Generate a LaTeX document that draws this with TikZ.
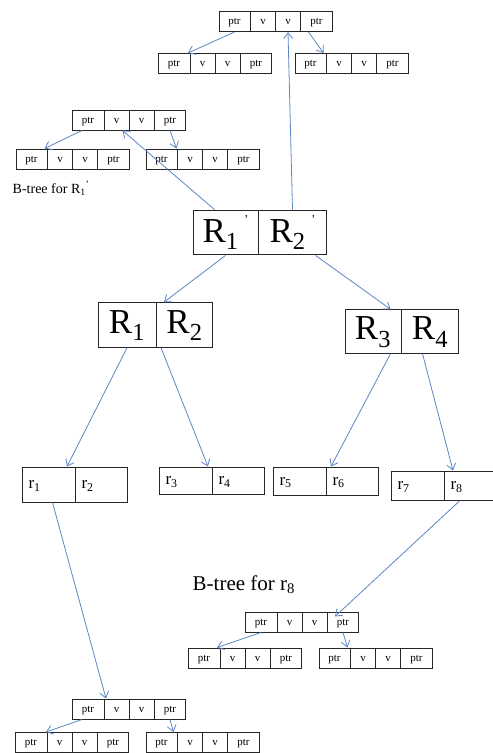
\documentclass[tikz,border=0pt]{standalone}
\usepackage{fontspec}
\setmainfont{Liberation Serif}
\usetikzlibrary{shapes.multipart,arrows.meta}

\definecolor{linkblue}{RGB}{92,134,196}

\tikzset{every picture/.style={line width=0.75pt}}
\tikzset{
  keys/.style={draw=black!85, line width=1pt, fill=white,
    rectangle split, rectangle split horizontal, rectangle split parts=4,
    rectangle split part align=base,
    inner xsep=6pt, inner ysep=4pt, text height=9pt, text depth=3pt,
    font=\fontsize{11}{13}\selectfont},
  bigkeys/.style={draw=black!85, line width=1pt, fill=white,
    rectangle split, rectangle split horizontal, rectangle split parts=2,
    rectangle split part align=base,
    inner xsep=8pt, inner ysep=5pt, text height=24pt, text depth=7pt,
    font=\fontsize{35}{38}\selectfont},
  leaf/.style={draw=black!85, line width=1pt, fill=white,
    rectangle split, rectangle split horizontal, rectangle split parts=2,
    rectangle split part align=base,
    inner xsep=6pt, inner ysep=4pt, text height=13pt, text depth=5pt,
    font=\fontsize{17}{20}\selectfont},
  link/.style={draw=linkblue, line width=0.8pt,
    -{Straight Barb[length=6pt,width=9pt]}},
}

% one b-tree node: ptr | v | v | ptr
\newcommand{\keyrow}{\makebox[19pt]{ptr}\nodepart{two}\makebox[12pt]{v}%
  \nodepart{three}\makebox[12pt]{v}\nodepart{four}\makebox[19pt]{ptr}}
\newcommand{\leafrow}[2]{\makebox[40pt][l]{r\textsubscript{#1}}%
  \nodepart{two}\makebox[40pt][l]{r\textsubscript{#2}}}
\newcommand{\tick}{\raisebox{0.55em}{\fontsize{12}{12}\selectfont ’}}

\begin{document}
\begin{tikzpicture}[x=1pt,y=1pt,yscale=-1]
\useasboundingbox (0,0) rectangle (493,753);

% top b-tree
\node [keys] (troot)  at (275.5,21.5) {\keyrow};
\node [keys] (tleft)  at (215,63.5)   {\keyrow};
\node [keys] (tright) at (351.5,63.5) {\keyrow};

% b-tree for R1'
\node [keys] (sroot)  at (129,120)    {\keyrow};
\node [keys] (sleft)  at (72.5,159)   {\keyrow};
\node [keys] (sright) at (202.5,159)  {\keyrow};
\node [anchor=base west, font=\fontsize{14}{16}\selectfont] (labR) at (9,193)
  {B-tree for R\textsubscript{1}\textsuperscript{’}};

% R nodes
\node [bigkeys] (Rp) at (260,232.5)
  {\makebox[48pt]{R\textsubscript{1}\,\tick}\nodepart{two}\makebox[52pt]{R\textsubscript{2}\,\tick}};
\node [bigkeys, inner ysep=6.5pt] (R12) at (155.5,325)
  {\makebox[41pt]{R\textsubscript{1}}\nodepart{two}\makebox[40pt]{R\textsubscript{2}}};
\node [bigkeys, inner ysep=6pt] (R34) at (401.5,331.5)
  {\makebox[40pt]{R\textsubscript{3}}\nodepart{two}\makebox[40pt]{R\textsubscript{4}}};

% leaves
\node [leaf, inner ysep=8.5pt] (r12) at (75,484.5)  {\leafrow{1}{2}};
\node [leaf, inner ysep=4.5pt] (r34) at (212,480.5) {\leafrow{3}{4}};
\node [leaf, inner ysep=5pt]   (r56) at (326,481)   {\leafrow{5}{6}};
\node [leaf, inner ysep=5.5pt] (r78) at (444,485.5) {\leafrow{7}{8}};

% b-tree for r8
\node [anchor=base west, font=\fontsize{21}{24}\selectfont] (labr) at (189,590)
  {B-tree for r\textsubscript{8}};
\node [keys] (rroot)  at (302,622)    {\keyrow};
\node [keys] (rleft)  at (245,658)    {\keyrow};
\node [keys] (rright) at (375.5,658)  {\keyrow};

% b-tree for r1
\node [keys] (lroot)  at (129,709)    {\keyrow};
\node [keys] (lleft)  at (72,742.5)   {\keyrow};
\node [keys] (lright) at (202.5,742.5) {\keyrow};

% links
\draw [link] (troot.one south) -- ([xshift=-2pt]tleft.one split north);
\draw [link] ([xshift=8pt]troot.three split south) -- ([xshift=-3pt]tright.one split north);
\draw [link] (Rp.two north) -- (troot.three south);

\draw [link] ([xshift=-6pt]sroot.one south) -- ([xshift=-3pt]sleft.one split north);
\draw [link] (sroot.four south) -- ([xshift=-1pt]sright.one split north);
\draw [link] ([xshift=-11pt]Rp.one north) -- ([xshift=6pt]sroot.two south);

\draw [link] (Rp.one south) -- ([xshift=8pt]R12.one split north);
\draw [link] ([xshift=23pt]Rp.two south) -- ([xshift=-11pt]R34.one split north);

\draw [link] (R12.one south) -- ([xshift=-8pt]r12.one split north);
\draw [link] ([xshift=5pt]R12.one split south) -- ([xshift=-4pt]r34.one split north);
\draw [link] ([xshift=-11pt]R34.one split south) -- ([xshift=5pt]r56.one split north);
\draw [link] ([xshift=21pt]R34.one split south) -- ([xshift=9pt]r78.one split north);

\draw [link] ([xshift=4pt]r12.one south) -- ([xshift=2pt]lroot.one split north);
\draw [link] ([xshift=16pt]r78.one split south) -- ([xshift=8pt,yshift=5pt]rroot.three split north);

\draw [link] ([xshift=-6pt]lroot.one south) -- ([xshift=-1pt]lleft.one split north);
\draw [link] (lroot.four south) -- ([xshift=-4pt]lright.one split north);
\draw [link] (rroot.one south) -- ([xshift=-3pt]rleft.one split north);
\draw [link] (rroot.four south) -- ([xshift=-3pt]rright.one split north);

\end{tikzpicture}
\end{document}
